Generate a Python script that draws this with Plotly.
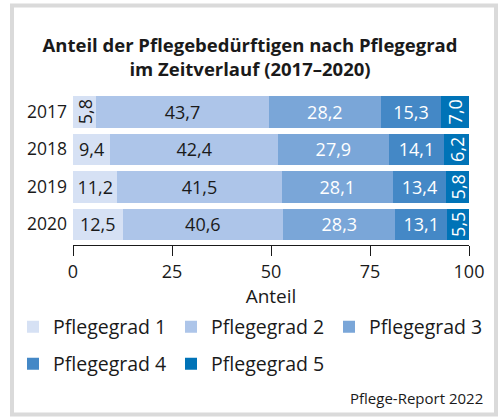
import plotly.graph_objects as go

years = ["2017", "2018", "2019", "2020"]
pg1 = [5.8, 9.4, 11.2, 12.5]
pg2 = [43.7, 42.4, 41.5, 40.6]
pg3 = [28.2, 27.9, 28.1, 28.3]
pg4 = [15.3, 14.1, 13.4, 13.1]
pg5 = [7.0, 6.2, 5.8, 5.5]
names = ["Pflegegrad 1", "Pflegegrad 2", "Pflegegrad 3", "Pflegegrad 4", "Pflegegrad 5"]
x_ticks = [0, 25, 50, 75, 100]

colors = ["#d6e1f4", "#adc5e9", "#7aa6d8", "#4488c6", "#0073b7"]
text_colors = ["#1a1a1a", "#1a1a1a", "#ffffff", "#ffffff", "#ffffff"]
FONT = "Open Sans, sans-serif"
DARK = "#1a1a1a"

W, H = 499, 417
ML, MT, MB = 73, 93, 172
AXIS_RIGHT = 469  # pixel where x = 100
PW, PH = W - ML, H - MT - MB


def px(x):
    return (x - ML) / PW


def py(y):
    return (H - MB - y) / PH


def fmt(v):
    return f"{v:.1f}".replace(".", ",")


fig = go.Figure()

series = [pg1, pg2, pg3, pg4, pg5]
for i, vals in enumerate(series):
    labels = [fmt(v) for v in vals]
    if i == 0:
        labels[0] = ""  # narrow segment, drawn rotated below
    bar = go.Bar(
        x=vals,
        y=years,
        name=names[i],
        orientation="h",
        marker=dict(color=colors[i], line=dict(width=0)),
        text=labels,
        textposition="inside",
        insidetextanchor="middle",
        textfont=dict(color=text_colors[i], size=18, family=FONT),
        constraintext="none",
        hoverinfo="x+name",
        legend="legend" if i < 3 else "legend2",
    )
    bar.textangle = -90 if i == 4 else 0
    fig.add_trace(bar)

# rotated label for the thin 2017 segment of Pflegegrad 1
fig.add_annotation(
    x=pg1[0] / 2,
    y=0,
    text=fmt(pg1[0]),
    textangle=-90,
    showarrow=False,
    font=dict(size=18, color=text_colors[0], family=FONT),
)

# grey frame
fig.add_shape(
    type="rect",
    xref="paper",
    yref="paper",
    x0=px(12),
    x1=px(496),
    y0=py(414.5),
    y1=py(5.5),
    line=dict(color="#dadada", width=4),
    fillcolor="rgba(0,0,0,0)",
    layer="below",
)

fig.add_annotation(
    xref="paper",
    yref="paper",
    x=px(485),
    y=py(398),
    xanchor="right",
    yanchor="middle",
    text="Pflege-Report 2022",
    showarrow=False,
    font=dict(size=15, color=DARK, family=FONT),
)

legend_common = dict(
    orientation="h",
    xanchor="left",
    yanchor="middle",
    bgcolor="rgba(0,0,0,0)",
    font=dict(size=19.5, color=DARK, family=FONT),
    entrywidth=113,
    entrywidthmode="pixels",
    traceorder="normal",
)

fig.update_layout(
    width=W,
    height=H,
    margin=dict(l=ML, r=0, t=MT, b=MB, autoexpand=False),
    paper_bgcolor="white",
    plot_bgcolor="white",
    font=dict(family=FONT, color=DARK),
    barmode="stack",
    bargap=0.16,
    title=dict(
        text="<b>Anteil der Pflegebedürftigen nach Pflegegrad<br>im Zeitverlauf (2017–2020)</b>",
        xref="container",
        yref="container",
        x=250 / W,
        y=1 - 52 / H,
        xanchor="center",
        yanchor="middle",
        font=dict(size=18.5, color=DARK, family=FONT),
    ),
    legend=dict(x=px(13), y=py(327), **legend_common),
    legend2=dict(x=px(13), y=py(364), **legend_common),
    xaxis=dict(
        domain=[0, px(AXIS_RIGHT)],
        range=[0, 100],
        tickvals=x_ticks,
        ticktext=[str(t) for t in x_ticks],
        ticks="outside",
        ticklen=10,
        tickwidth=1,
        tickcolor=DARK,
        showline=True,
        linecolor=DARK,
        linewidth=1,
        showgrid=False,
        zeroline=False,
        tickfont=dict(size=18, color=DARK, family=FONT),
        title=dict(text="Anteil", standoff=1, font=dict(size=19, color=DARK, family=FONT)),
        fixedrange=True,
    ),
    yaxis=dict(
        type="category",
        categoryorder="array",
        categoryarray=years,
        range=[3.553, -0.5],
        showgrid=False,
        zeroline=False,
        showline=False,
        ticks="",
        ticklabelstandoff=5,
        tickfont=dict(size=17.5, color=DARK, family=FONT),
        fixedrange=True,
    ),
)

fig.write_html(
    "out.html",
    config={"displayModeBar": False},
    post_script="document.body.style.margin='0';document.body.style.overflow='hidden';",
)
